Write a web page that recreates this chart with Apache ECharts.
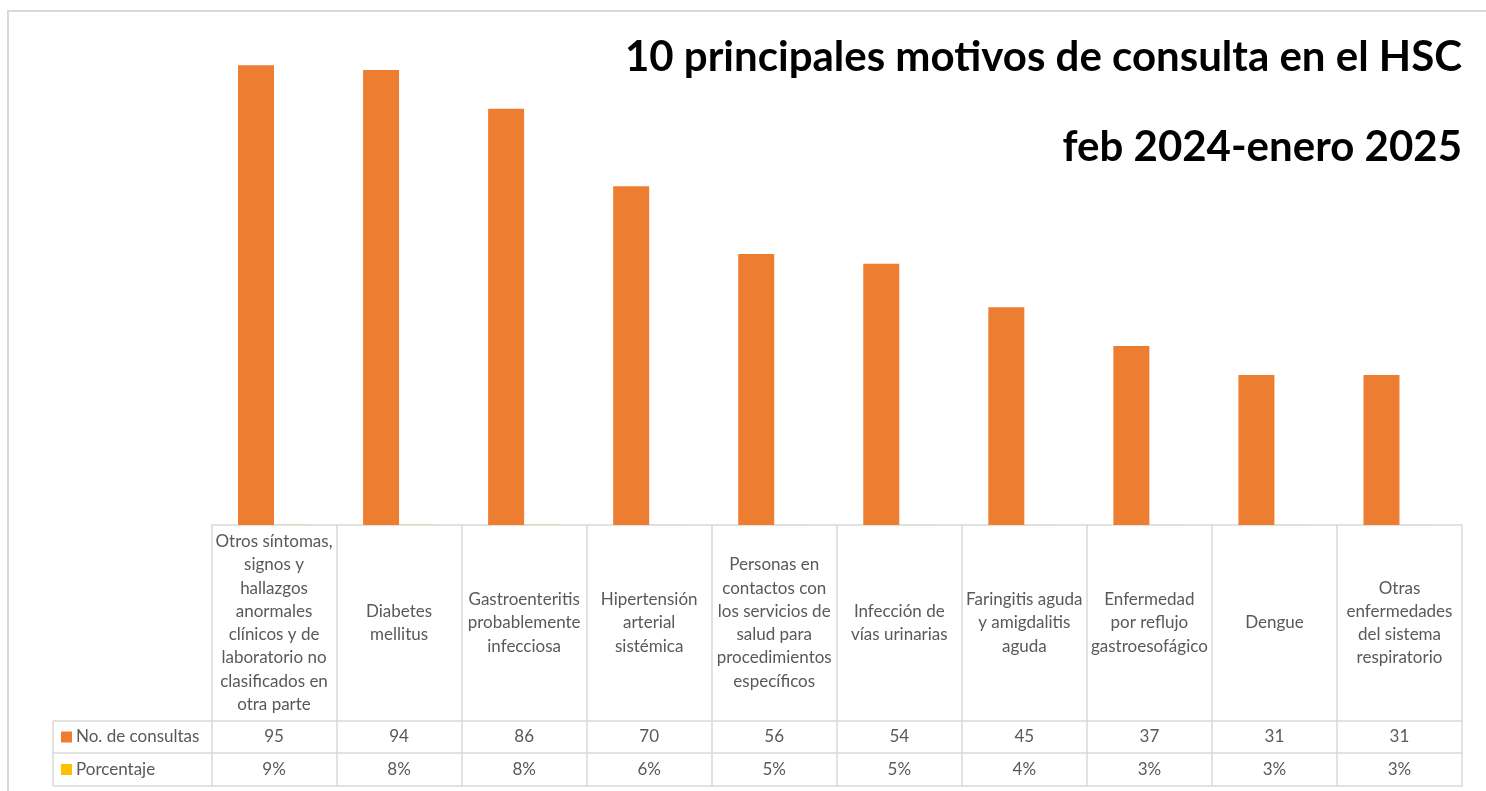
<!DOCTYPE html>
<html>
<head>
<meta charset="utf-8">
<title>10 principales motivos de consulta en el HSC</title>
<script src="https://cdn.jsdelivr.net/npm/echarts@6/dist/echarts.min.js"></script>
<style>
  html, body { margin: 0; padding: 0; background: #ffffff; }
  #chart { width: 1486px; height: 791px; }
</style>
</head>
<body>
<div id="chart"></div>
<script>
// Motivos de consulta (texto de cada columna de la tabla de datos)
const categorias = [
  'Otros síntomas,\nsignos y\nhallazgos\nanormales\nclínicos y de\nlaboratorio no\nclasificados en\notra parte',
  'Diabetes\nmellitus',
  'Gastroenteritis\nprobablemente\ninfecciosa',
  'Hipertensión\narterial\nsistémica',
  'Personas en\ncontactos con\nlos servicios de\nsalud para\nprocedimientos\nespecíficos',
  'Infección de\nvías urinarias',
  'Faringitis aguda\ny amigdalitis\naguda',
  'Enfermedad\npor reflujo\ngastroesofágico',
  'Dengue',
  'Otras\nenfermedades\ndel sistema\nrespiratorio'
];
const nombresSeries = ['No. de consultas', 'Porcentaje'];
const consultas = [95, 94, 86, 70, 56, 54, 45, 37, 31, 31];
const porcentaje = [9, 8, 8, 6, 5, 5, 4, 3, 3, 3];   // en %
const titulo1 = '10 principales motivos de consulta en el HSC';
const titulo2 = 'feb 2024-enero 2025';

// Layout
const W = 1486, H = 791;
const GRID_LEFT = 211.5, GRID_RIGHT = 24;
const BASE_Y = 525;            // base de las barras / borde superior de la tabla
const CAT_ROW_H = 196;         // fila de categorías
const ROW1_H = 32, ROW2_H = 33;
const HEADER_LEFT = 53;
const LINE_COLOR = '#d9d9d9';
const TEXT_COLOR = '#595959';
const FONT = 'Lato, "Open Sans", sans-serif';
const ORANGE = '#ED7D31', YELLOW = '#FFC000';

const chart = echarts.init(document.getElementById('chart'), null, { renderer: 'canvas' });

const tableLine = { show: true, lineStyle: { color: LINE_COLOR, width: 1.5 } };
const labelBase = { interval: 0, color: TEXT_COLOR, fontFamily: FONT, fontSize: 17, verticalAlign: 'middle', align: 'center' };

const y1 = BASE_Y + CAT_ROW_H, y2 = y1 + ROW1_H, y3 = y2 + ROW2_H;

const titleStyle = { fontFamily: FONT, fontWeight: 'bold', fontSize: 42, lineHeight: 42, color: '#000000' };

chart.setOption({
  animation: false,
  backgroundColor: '#ffffff',
  title: [
    { text: titulo1, right: GRID_RIGHT, top: 36, padding: 0, textStyle: titleStyle },
    { text: titulo2, right: GRID_RIGHT, top: 126, padding: 0, textStyle: titleStyle }
  ],
  grid: { left: GRID_LEFT, right: GRID_RIGHT, top: 41, bottom: H - BASE_Y, containLabel: false },
  xAxis: [
    { // fila de categorías
      type: 'category', data: categorias, position: 'bottom', offset: 0,
      axisLine: tableLine,
      axisTick: { show: true, length: CAT_ROW_H, lineStyle: { color: LINE_COLOR, width: 1.5 } },
      axisLabel: Object.assign({}, labelBase, { margin: CAT_ROW_H / 2, lineHeight: 23.3 })
    },
    { // fila: No. de consultas
      type: 'category', data: categorias, position: 'bottom', offset: CAT_ROW_H,
      axisLine: tableLine,
      axisTick: { show: true, length: ROW1_H, lineStyle: { color: LINE_COLOR, width: 1.5 } },
      axisLabel: Object.assign({}, labelBase, { margin: ROW1_H / 2, formatter: (v, i) => String(consultas[i]) })
    },
    { // fila: Porcentaje
      type: 'category', data: categorias, position: 'bottom', offset: CAT_ROW_H + ROW1_H,
      axisLine: tableLine,
      axisTick: { show: true, length: ROW2_H, lineStyle: { color: LINE_COLOR, width: 1.5 } },
      axisLabel: Object.assign({}, labelBase, { margin: ROW2_H / 2, formatter: (v, i) => porcentaje[i] + '%' })
    },
    { // borde inferior de la tabla
      type: 'category', data: categorias, position: 'bottom', offset: CAT_ROW_H + ROW1_H + ROW2_H,
      axisLine: tableLine, axisTick: { show: false }, axisLabel: { show: false }
    }
  ],
  yAxis: { type: 'value', min: 0, max: 100, show: false },
  series: [
    { name: nombresSeries[0], type: 'bar', xAxisIndex: 0, data: consultas,
      barWidth: 36, barGap: '0%', itemStyle: { color: ORANGE } },
    // porcentajes como fracción en la misma escala: quedan bajo la línea base
    { name: nombresSeries[1], type: 'bar', xAxisIndex: 0, data: porcentaje.map(p => p / 100),
      barWidth: 36, z: -1, itemStyle: { color: YELLOW } }
  ],
  graphic: [
    // marco exterior
    { type: 'rect', z: -10, silent: true,
      shape: { x: 8, y: 11, width: W + 20, height: H + 20 },
      style: { fill: null, stroke: LINE_COLOR, lineWidth: 2 } },
    // celdas de encabezado de filas
    { type: 'line', shape: { x1: HEADER_LEFT, y1: y1, x2: GRID_LEFT, y2: y1 }, style: { stroke: LINE_COLOR, lineWidth: 1.5 } },
    { type: 'line', shape: { x1: HEADER_LEFT, y1: y2, x2: GRID_LEFT, y2: y2 }, style: { stroke: LINE_COLOR, lineWidth: 1.5 } },
    { type: 'line', shape: { x1: HEADER_LEFT, y1: y3, x2: GRID_LEFT, y2: y3 }, style: { stroke: LINE_COLOR, lineWidth: 1.5 } },
    { type: 'line', shape: { x1: HEADER_LEFT, y1: y1, x2: HEADER_LEFT, y2: y3 }, style: { stroke: LINE_COLOR, lineWidth: 1.5 } },
    // claves de leyenda
    { type: 'rect', shape: { x: 61, y: y1 + ROW1_H / 2 - 5.5, width: 11, height: 11 }, style: { fill: ORANGE } },
    { type: 'rect', shape: { x: 61, y: y2 + ROW2_H / 2 - 5.5, width: 11, height: 11 }, style: { fill: YELLOW } },
    { type: 'text', x: 76, y: y1 + ROW1_H / 2,
      style: { text: nombresSeries[0], fill: TEXT_COLOR, font: '17px ' + FONT, verticalAlign: 'middle', align: 'left' } },
    { type: 'text', x: 76, y: y2 + ROW2_H / 2,
      style: { text: nombresSeries[1], fill: TEXT_COLOR, font: '17px ' + FONT, verticalAlign: 'middle', align: 'left' } }
  ]
});
</script>
</body>
</html>
